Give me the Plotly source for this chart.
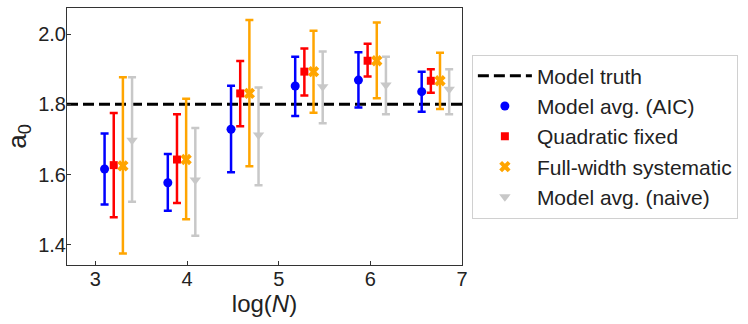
import plotly.graph_objects as go

# log(N) for each sample size, and horizontal offsets so the series don't overlap
log_n = [3.00, 3.69, 4.38, 5.08, 5.77, 6.46]
truth = 1.8

series_names = ['Model avg. (AIC)', 'Quadratic fixed', 'Full-width systematic', 'Model avg. (naive)']
offsets = [0.1, 0.2, 0.3, 0.4]

# central values and upper / lower ends of the error bars
aic_mid = [1.616, 1.577, 1.729, 1.852, 1.869, 1.836]
aic_hi = [1.717, 1.659, 1.853, 1.935, 1.948, 1.893]
aic_lo = [1.515, 1.497, 1.607, 1.767, 1.791, 1.779]

quad_mid = [1.627, 1.643, 1.831, 1.893, 1.924, 1.867]
quad_hi = [1.775, 1.772, 1.923, 1.959, 1.972, 1.900]
quad_lo = [1.479, 1.519, 1.738, 1.825, 1.879, 1.833]

full_mid = [1.625, 1.643, 1.831, 1.893, 1.924, 1.867]
full_hi = [1.877, 1.816, 2.040, 2.009, 2.033, 1.947]
full_lo = [1.376, 1.473, 1.624, 1.776, 1.817, 1.787]

naive_mid = [1.698, 1.585, 1.713, 1.850, 1.855, 1.843]
naive_hi = [1.877, 1.733, 1.848, 1.950, 1.935, 1.900]
naive_lo = [1.523, 1.426, 1.570, 1.746, 1.772, 1.772]

x_range = [2.69, 7.0]
y_range = [1.343, 2.074]

fig = go.Figure()

fig.add_trace(go.Scatter(
    x=x_range, y=[truth, truth],
    mode='lines', name='Model truth',
    line=dict(color='black', width=3, dash='11px,5px'),
))

styles = [
    ('blue', 'circle', 9),
    ('red', 'square', 8),
    ('orange', 'x', 10),
    ('#c8c8c8', 'triangle-down', 10),
]
data = [
    (aic_mid, aic_hi, aic_lo),
    (quad_mid, quad_hi, quad_lo),
    (full_mid, full_hi, full_lo),
    (naive_mid, naive_hi, naive_lo),
]

for name, off, (color, sym, size), (mid, hi, lo) in zip(series_names, offsets, styles, data):
    fig.add_trace(go.Scatter(
        x=[v + off for v in log_n],
        y=mid,
        mode='markers',
        name=name,
        marker=dict(color=color, symbol=sym, size=size, line=dict(width=0)),
        error_y=dict(
            type='data', symmetric=False,
            array=[h - m for h, m in zip(hi, mid)],
            arrayminus=[m - l for m, l in zip(mid, lo)],
            color=color, thickness=2.5, width=4,
        ),
    ))

axis_common = dict(
    showline=True, linecolor='#333', linewidth=1, mirror=True,
    ticks='inside', ticklen=4, tickwidth=1, tickcolor='#333',
    showgrid=False, zeroline=False,
    tickfont=dict(size=20, color='#222'),
    ticklabelstandoff=-4,
)

fig.update_layout(
    width=748, height=324,
    margin=dict(l=67, r=286, t=8, b=59),
    paper_bgcolor='white', plot_bgcolor='white',
    font=dict(family='Liberation Sans, Arial, sans-serif', color='#222'),
    xaxis=dict(range=x_range, tickvals=[3, 4, 5, 6, 7],
               title=dict(text='log(<i>N</i>)', font=dict(size=24), standoff=0),
               **axis_common),
    yaxis=dict(range=y_range, tickvals=[1.4, 1.6, 1.8, 2.0], tickformat='.1f',
               title=dict(text='a<sub>0</sub>', font=dict(size=26), standoff=4),
               **axis_common),
    legend=dict(
        x=1.025, y=0.5, xanchor='left', yanchor='middle',
        bordercolor='#d0d0d0', borderwidth=1,
        font=dict(size=21, color='#222'),
        itemwidth=54,
    ),
    showlegend=True,
)

# the page's default body margin would shift the chart by 8px
fig.write_html("out.html", config={'displayModeBar': False},
               post_script="document.body.style.margin='0';")
